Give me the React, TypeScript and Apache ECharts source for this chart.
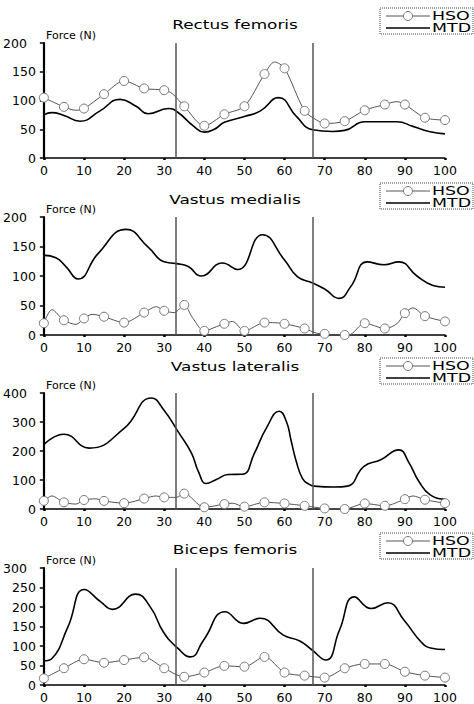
import React, { useEffect, useRef } from "react";
import * as echarts from "echarts";

// ---------- data ----------
const titles = ["Rectus femoris", "Vastus medialis", "Vastus lateralis", "Biceps femoris"];
const yMax = [200, 200, 400, 300];
const yStep = [50, 50, 100, 50];
const phaseLines = [33, 67];
const legendNames = ["HSO", "MTD"];
const yName = "Force (N)";

// Rectus femoris
const rfHSO = [
  [0, 105], [5, 89], [8, 83], [10, 86], [15, 111], [20, 134], [25, 121], [30, 118], [32, 112],
  [35, 90], [40, 56], [45, 76], [50, 90], [55, 146], [57.5, 167], [60, 156], [65, 82], [68, 66],
  [70, 60], [75, 64], [80, 83], [85, 93], [88, 98], [90, 93], [95, 70], [100, 66],
];
const rfMTD = [
  [0, 75], [2, 79], [5, 74], [9, 64], [14, 82], [19, 102], [23, 90], [26, 77], [31, 86], [33.3, 80],
  [37.4, 55], [40, 45], [42.5, 50], [45, 62], [50, 72], [54, 82], [58.5, 105], [63, 72], [67, 49],
  [72, 46], [75, 48], [80, 63], [88, 63], [92, 55], [96, 46], [100, 42],
];

// Vastus medialis
const vmHSO = [
  [0, 20], [2, 43], [5, 25], [8, 18], [10, 28], [12, 35], [15, 31], [20, 21], [25, 38], [28, 48],
  [30, 41], [32.5, 38], [35, 51], [37, 30], [40, 7], [43, 14], [45, 19], [47, 23], [50, 7], [55, 21],
  [57, 21], [60, 19], [65, 11], [68, 3], [70, 2], [72, 0], [75, 0], [76, 0], [80, 20], [85, 11],
  [88, 19], [90, 37], [92, 46], [95, 32], [100, 23],
];
const vmMTD = [
  [0, 135], [3, 131], [5.5, 116], [8.5, 95], [13.5, 138], [20.5, 179], [26, 149], [30, 124],
  [33, 121], [36, 116], [39.2, 100], [44.5, 122], [48.3, 111], [54.5, 170], [60, 127], [63.2, 99],
  [67, 88], [70, 78], [73.6, 62], [76.5, 82], [80.6, 124], [84.8, 119], [88.5, 124], [93, 100],
  [97, 84], [100, 81],
];

// Vastus lateralis
const vlHSO = [
  [0, 28], [2, 45], [5, 23], [8, 17], [10, 31], [13, 35], [15, 28], [20, 20], [25, 36], [28, 45],
  [30, 40], [33, 40], [35, 53], [40, 6], [45, 17], [47, 20], [50, 8], [55, 23], [60, 19], [65, 11],
  [70, 2], [75, 0], [80, 19], [85, 11], [90, 34], [92, 45], [95, 32], [100, 20],
];
const vlMTD = [
  [0, 222], [5, 258], [11.3, 210], [20, 278], [26.8, 383], [30, 340], [33.5, 266], [36.8, 193],
  [38.5, 130], [40.5, 88], [43, 102], [46, 119], [49.5, 120], [52.5, 193], [55.5, 280], [58.7, 337],
  [60.5, 300], [61.6, 238], [63, 160], [64.5, 105], [66, 86], [67.4, 79], [72.4, 76], [75.7, 79],
  [79.8, 147], [84, 170], [88.5, 204], [91, 160], [93.5, 95], [96.4, 48], [100, 34],
];

// Biceps femoris
const bfHSO = [
  [0, 17], [5, 43], [10, 66], [15, 57], [20, 64], [25, 71], [30, 43], [35, 21], [40, 32], [45, 49],
  [50, 47], [55, 72], [60, 32], [65, 24], [70, 19], [75, 43], [80, 54], [85, 54], [90, 34], [95, 24],
  [100, 19],
];
const bfMTD = [
  [0, 62], [2, 68], [6, 149], [10.1, 245], [14.2, 213], [17.1, 194], [22.9, 233], [26.6, 199],
  [29.8, 136], [33.3, 95], [36.6, 72], [39.8, 115], [45.2, 188], [49.8, 158], [53.9, 171],
  [59.7, 128], [63.8, 113], [66.7, 91], [70.3, 64], [73.7, 141], [77.4, 226], [81.6, 196],
  [85.7, 211], [89.8, 166], [94, 111], [96.4, 95], [100, 91],
];

const hsoData = [rfHSO, vmHSO, vlHSO, bfHSO];
const mtdData = [rfMTD, vmMTD, vlMTD, bfMTD];

// ---------- layout ----------
const FONT = "DejaVu Sans";
const panels = [
  { top: 43, height: 115, titleY: 25, legendY: 8 },
  { top: 217, height: 118, titleY: 200, legendY: 183 },
  { top: 393, height: 116, titleY: 367, legendY: 358 },
  { top: 568, height: 117, titleY: 550, legendY: 533 },
];
const GRID_LEFT = 42;
const GRID_W = 403;

export default function App() {
  const ref = useRef<HTMLDivElement>(null);
  useEffect(() => {
    const chart = echarts.init(ref.current!, null, { renderer: "svg" });

    const grid = panels.map((p) => ({ left: GRID_LEFT, top: p.top, width: GRID_W, height: p.height }));
    const xAxis = panels.map((_, i) => ({
      type: "value",
      gridIndex: i,
      min: 0,
      max: 100,
      interval: 10,
      splitLine: { show: false },
      axisLine: { show: true, lineStyle: { color: "#000", width: 1.5 } },
      axisTick: { show: true, length: 2, lineStyle: { color: "#000", width: 2.5 } },
      axisLabel: { color: "#000", fontFamily: FONT, fontSize: 12.5, margin: 6 },
    }));
    const yAxis = panels.map((_, i) => ({
      type: "value",
      gridIndex: i,
      min: 0,
      max: yMax[i],
      interval: yStep[i],
      splitLine: { show: false },
      axisLine: { show: true, lineStyle: { color: "#000", width: 2.2 } },
      axisTick: { show: true, length: 4, lineStyle: { color: "#000", width: 1.5 } },
      axisLabel: {
        color: "#000",
        fontFamily: FONT,
        fontSize: 12.5,
        margin: 8,
        formatter: (v: number) => (v === yMax[i] ? `{top|${v}}` : `${v}`),
        rich: { top: { padding: [0, 9, 0, 0], fontFamily: FONT, fontSize: 12.5, color: "#000" } },
      },
    }));

    const series: any[] = [];
    panels.forEach((_, i) => {
      series.push({
        name: legendNames[1],
        type: "line",
        xAxisIndex: i,
        yAxisIndex: i,
        data: mtdData[i],
        smooth: 0.5,
        showSymbol: false,
        symbol: "none",
        lineStyle: { color: "#000", width: 1.6 },
        z: 3,
        markLine: {
          silent: true,
          symbol: ["none", "none"],
          label: { show: false },
          lineStyle: { color: "#555", width: 1.5, type: "solid" },
          data: phaseLines.map((x) => ({ xAxis: x })),
        },
      });
      series.push({
        name: legendNames[0],
        type: "line",
        xAxisIndex: i,
        yAxisIndex: i,
        data: hsoData[i],
        smooth: 0.3,
        showAllSymbol: true,
        symbol: (v: number[]) => (v[0] % 5 === 0 ? "circle" : "none"),
        symbolSize: 9,
        itemStyle: { color: "#fff", borderColor: "#777", borderWidth: 1 },
        lineStyle: { color: "#555", width: 1 },
        z: 4,
      });
    });

    const graphic: any[] = [];
    panels.forEach((p, i) => {
      graphic.push({
        type: "text",
        x: 235,
        y: p.titleY,
        scaleX: 1.3,
        style: {
          text: titles[i],
          fontFamily: FONT,
          fontSize: 13,
          fill: "#000",
          textAlign: "center",
          textVerticalAlign: "middle",
        },
      });
      graphic.push({
        type: "text",
        x: 46,
        y: p.top - 8,
        style: {
          text: yName,
          fontFamily: FONT,
          fontSize: 11,
          fill: "#000",
          textAlign: "left",
          textVerticalAlign: "middle",
        },
      });
      const ly = p.legendY;
      graphic.push({
        type: "rect",
        shape: { x: 380, y: ly, width: 93, height: 26 },
        style: { fill: "#fff", stroke: "#444", lineWidth: 1, lineDash: [1, 1] },
      });
      graphic.push({
        type: "line",
        shape: { x1: 386, y1: ly + 8, x2: 430, y2: ly + 8 },
        style: { stroke: "#555", lineWidth: 1 },
      });
      graphic.push({
        type: "circle",
        shape: { cx: 408, cy: ly + 8, r: 4.5 },
        style: { fill: "#fff", stroke: "#777", lineWidth: 1 },
      });
      graphic.push({
        type: "line",
        shape: { x1: 386, y1: ly + 20, x2: 430, y2: ly + 20 },
        style: { stroke: "#000", lineWidth: 1.6 },
      });
      legendNames.forEach((n, k) => {
        graphic.push({
          type: "text",
          x: 432,
          y: ly + 8 + k * 12,
          scaleX: 1.45,
          style: {
            text: n,
            fontFamily: FONT,
            fontSize: 12,
            fill: "#000",
            textAlign: "left",
            textVerticalAlign: "middle",
          },
        });
      });
    });

    chart.setOption({
      animation: false,
      backgroundColor: "#fff",
      grid,
      xAxis,
      yAxis,
      series,
      graphic,
    });
    return () => chart.dispose();
  }, []);
  return (
    <div
      ref={ref}
      style={{ position: "fixed", left: 0, top: 0, width: 474, height: 704, background: "#fff" }}
    />
  );
}
